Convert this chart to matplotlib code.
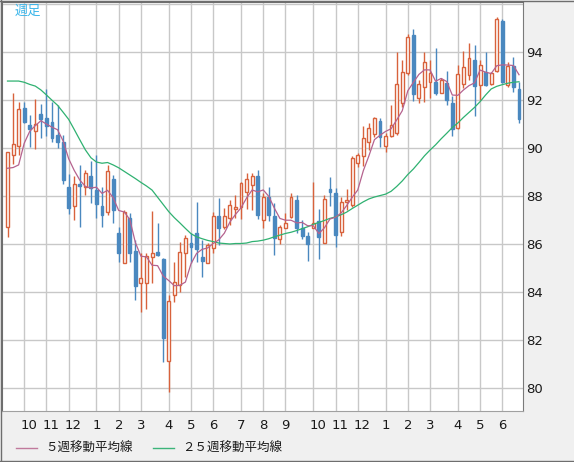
"""
Weekly candlestick chart with 5-week and 25-week moving averages
"""
import matplotlib
matplotlib.use('Agg')
import matplotlib.pyplot as plt
import matplotlib.transforms as mtransforms
from matplotlib.lines import Line2D
import numpy as np
import pandas as pd

# weekly OHLC, oldest first
opens = [86.70, 89.70, 90.09, 91.68, 90.95, 90.73, 91.42, 91.26, 91.09, 90.56,
         90.26, 88.39, 87.57, 88.49, 88.37, 88.84, 88.25, 87.58, 87.35, 88.70,
         86.47, 85.21, 87.07, 85.71, 84.36, 84.36, 85.44, 85.65, 85.36, 81.13,
         83.87, 84.29, 85.61, 86.05, 86.47, 85.47, 85.22, 85.82, 87.17, 86.70,
         87.07, 87.47, 87.53, 88.18, 88.46, 88.84, 87.00, 87.97, 87.17, 86.20,
         86.65, 87.11, 87.84, 86.65, 86.33, 86.68, 86.97, 86.05, 88.28, 88.12,
         86.51, 87.74, 87.63, 89.37, 89.67, 90.27, 90.59, 91.13, 90.09, 90.52,
         90.62, 91.90, 93.12, 94.72, 92.08, 92.54, 92.77, 92.77, 92.31, 92.71,
         91.90, 90.83, 92.68, 93.05, 93.68, 92.64, 93.19, 92.68, 93.23, 95.31,
         92.64, 93.43, 92.45]
highs = [89.85, 92.31, 91.93, 91.93, 91.38, 92.04, 91.86, 92.47, 91.94, 91.81,
         90.55, 88.92, 88.84, 89.30, 89.09, 89.46, 89.71, 88.39, 89.30, 88.88,
         86.72, 87.42, 87.28, 86.17, 85.61, 85.61, 87.38, 86.89, 85.40, 83.87,
         85.24, 86.10, 86.38, 86.45, 87.76, 86.17, 86.03, 87.35, 87.91, 87.49,
         87.84, 88.04, 88.60, 88.95, 88.95, 89.09, 88.12, 88.39, 87.70, 86.79,
         87.28, 88.12, 88.04, 87.00, 86.51, 88.60, 87.45, 88.04, 88.81, 88.32,
         87.97, 88.30, 89.67, 89.81, 90.92, 91.06, 91.31, 91.27, 90.62, 91.80,
         94.03, 93.68, 94.76, 94.96, 92.84, 94.03, 93.68, 94.17, 92.91, 93.22,
         92.18, 93.47, 94.07, 94.38, 94.31, 93.68, 94.03, 93.19, 95.46, 95.38,
         93.61, 93.79, 92.77]
lows = [86.28, 89.34, 89.71, 91.05, 90.06, 89.98, 90.44, 90.51, 90.26, 90.00,
        88.49, 87.25, 87.01, 86.72, 88.04, 87.72, 87.07, 86.70, 87.21, 86.86,
        85.26, 85.21, 85.26, 83.66, 83.17, 83.27, 84.36, 85.50, 81.09, 79.84,
        83.57, 84.00, 84.63, 85.22, 85.26, 84.61, 85.19, 85.61, 85.96, 86.61,
        86.79, 87.07, 87.03, 87.45, 87.42, 87.03, 86.65, 86.97, 85.54, 86.00,
        86.65, 87.07, 86.45, 86.20, 85.30, 86.65, 85.36, 86.03, 87.60, 85.89,
        86.33, 87.42, 87.56, 89.23, 89.25, 89.92, 90.48, 90.06, 89.85, 90.48,
        90.55, 91.70, 93.05, 91.98, 91.90, 91.94, 92.08, 92.22, 92.29, 91.80,
        90.51, 90.79, 92.50, 92.84, 91.34, 92.01, 92.59, 92.64, 93.19, 92.73,
        92.56, 92.36, 91.04]
closes = [89.83, 90.17, 91.63, 91.10, 90.79, 91.00, 91.20, 90.94, 90.44, 90.27,
          88.66, 87.49, 88.50, 88.42, 88.95, 88.32, 87.66, 87.21, 89.06, 87.42,
          85.64, 87.35, 85.64, 84.25, 84.57, 85.50, 85.61, 85.55, 82.09, 83.62,
          84.43, 85.68, 86.24, 85.89, 85.78, 85.30, 85.96, 87.17, 86.65, 87.17,
          87.63, 87.54, 88.56, 88.70, 88.84, 87.23, 87.95, 87.21, 86.24, 86.70,
          86.86, 87.95, 86.65, 86.34, 86.00, 86.89, 86.28, 87.87, 88.17, 86.38,
          87.76, 87.84, 89.58, 89.71, 90.41, 90.83, 91.25, 90.48, 90.52, 90.97,
          92.66, 93.17, 94.65, 92.25, 92.66, 93.61, 93.15, 92.29, 92.84, 92.01,
          90.79, 93.09, 93.40, 93.75, 92.59, 93.47, 92.64, 93.12, 95.38, 92.77,
          93.43, 92.54, 91.20]

# 5-week average for the first weeks (earlier closes are off the chart)
ma5_head = [89.16, 89.19, 89.30, 90.20]

# 25-week average as drawn
ma25 = [92.80, 92.80, 92.80, 92.75, 92.66, 92.59, 92.43, 92.22, 92.00, 91.79,
        91.50, 91.20, 90.78, 90.35, 89.93, 89.60, 89.42, 89.37, 89.40, 89.30,
        89.18, 89.03, 88.88, 88.73, 88.57, 88.42, 88.25, 87.95, 87.65, 87.35,
        87.10, 86.88, 86.65, 86.43, 86.30, 86.22, 86.15, 86.10, 86.04, 86.02,
        86.00, 86.02, 86.02, 86.04, 86.10, 86.12, 86.16, 86.22, 86.30, 86.37,
        86.44, 86.49, 86.56, 86.64, 86.72, 86.82, 86.90, 86.98, 87.07, 87.13,
        87.22, 87.33, 87.48, 87.62, 87.76, 87.88, 87.96, 88.02, 88.08, 88.20,
        88.40, 88.63, 88.90, 89.13, 89.40, 89.68, 89.92, 90.14, 90.39, 90.62,
        90.86, 91.05, 91.28, 91.49, 91.70, 91.94, 92.22, 92.47, 92.58, 92.65,
        92.71, 92.75, 92.77]

month_labels = ['10', '11', '12', '1', '2', '3', '4', '5', '6', '7', '8', '9',
                '10', '11', '12', '1', '2', '3', '4', '5', '6']
month_first_week = [3, 7, 11, 16, 20, 24, 29, 33, 37, 42, 46, 50,
                    55, 59, 63, 68, 72, 76, 81, 85, 89]

UP = '#d8623c'
DOWN = '#4a88bf'
MA5_COLOR = '#b5628e'
MA25_COLOR = '#2fb171'
GRID = '#c8c8c8'
JP = ['Noto Sans CJK JP', 'DejaVu Sans']

df = pd.DataFrame({'open': opens, 'high': highs, 'low': lows, 'close': closes})
df['week'] = np.arange(len(df))
ma5 = df['close'].rolling(5).mean()
ma5.iloc[:len(ma5_head)] = ma5_head

W, H = 574, 462
fig = plt.figure(figsize=(W / 100, H / 100), dpi=100)
fig.patch.set_facecolor('#f0f0f0')

ax = fig.add_axes([1.5 / W, 1 - 411 / H, (523 - 1.5) / W, (411 - 1.5) / H])
ax.set_facecolor('white')
ax.set_xlim(-1.08, 92.72)
ax.set_ylim(79.03, 96.12)

# grid and ticks
ax.set_axisbelow(True)
ax.set_xticks(month_first_week)
ax.set_xticklabels(month_labels)
yt = np.arange(80, 97, 2)
ax.set_yticks(yt)
ax.set_yticklabels([str(v) if v < 96 else '' for v in yt])
ax.grid(True, color=GRID, linewidth=1.0, zorder=0)
ax.yaxis.tick_right()
ax.tick_params(axis='both', length=0, labelsize=9.5, colors='#1a1a1a')
ax.tick_params(axis='y', pad=2.5)
ax.tick_params(axis='x', pad=6)
offset = mtransforms.ScaledTranslation(-4 / 100, 0, fig.dpi_scale_trans)
for lbl in ax.get_xticklabels():
    lbl.set_horizontalalignment('left')
    lbl.set_transform(lbl.get_transform() + offset)

for side in ['left', 'top']:
    ax.spines[side].set_color('#6e6e6e')
ax.spines['right'].set_color('#7a7a7a')
ax.spines['bottom'].set_color('#a0a0a0')

# candles
up = df[df['close'] >= df['open']]
dn = df[df['close'] < df['open']]
ax.vlines(up['week'], up['low'], up['high'], color=UP, linewidth=1.0, zorder=2)
ax.vlines(dn['week'], dn['low'], dn['high'], color=DOWN, linewidth=1.0, zorder=2)
ax.bar(up['week'], up['close'] - up['open'], bottom=up['open'], width=0.52,
       facecolor='white', edgecolor=UP, linewidth=1.0, zorder=3)
ax.bar(dn['week'], dn['open'] - dn['close'], bottom=dn['close'], width=0.52,
       facecolor=DOWN, edgecolor=DOWN, linewidth=1.0, zorder=3)

# moving averages
ax.plot(df['week'], ma25, color=MA25_COLOR, linewidth=0.9, zorder=4)
ax.plot(df['week'], ma5, color=MA5_COLOR, linewidth=0.9, zorder=4)

fig.text(15 / W, 1 - 11 / H, '週足', color='#3bb6ea', fontsize=9.5,
         family=JP, va='center', ha='left')

# legend
ly = 1 - 448 / H
fig.add_artist(Line2D([16 / W, 37 / W], [ly, ly], color='#c07a9c', linewidth=1.0))
fig.text(45 / W, ly, '５週移動平均線', fontsize=9, color='#1a1a1a',
         family=JP, va='center', ha='left')
fig.add_artist(Line2D([153 / W, 174 / W], [ly, ly], color='#3cb47a', linewidth=1.0))
fig.text(182 / W, ly, '２５週移動平均線', fontsize=9, color='#1a1a1a',
         family=JP, va='center', ha='left')

# outer frame
fig.add_artist(Line2D([0.5 / W, 0.5 / W], [0, 1], color='#6e6e6e', linewidth=1.0))
fig.add_artist(Line2D([0, 1], [1 - 0.5 / H, 1 - 0.5 / H], color='#6e6e6e', linewidth=1.0))
fig.add_artist(Line2D([0, 1], [1.0 / H, 1.0 / H], color='#6e6e6e', linewidth=1.0))

fig.savefig('out.png', dpi=100, facecolor=fig.get_facecolor())
